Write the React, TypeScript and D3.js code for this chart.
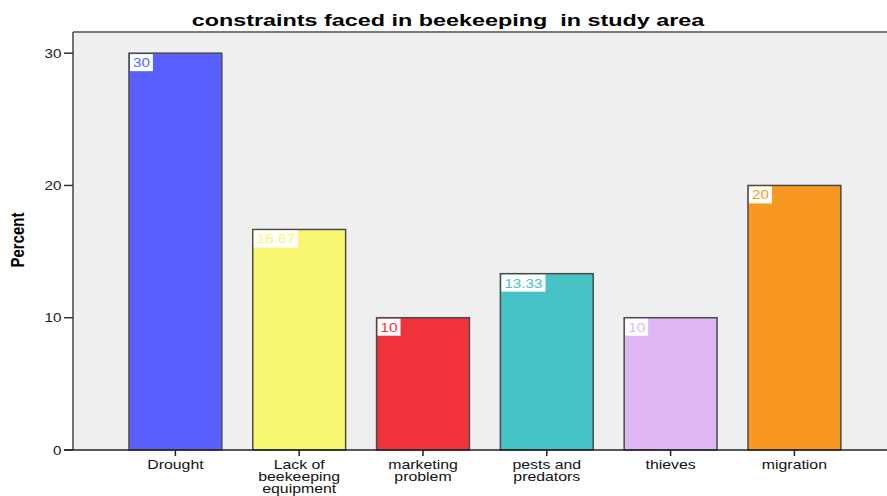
import React, { useEffect, useRef } from "react";
import * as d3 from "d3";

// Survey results: share of respondents naming each constraint
const categories = [
  "Drought",
  "Lack of beekeeping equipment",
  "marketing problem",
  "pests and predators",
  "thieves",
  "migration",
];
const tickLines = [
  ["Drought"],
  ["Lack of", "beekeeping", "equipment"],
  ["marketing", "problem"],
  ["pests and", "predators"],
  ["thieves"],
  ["migration"],
];
const percents = [30, 16.67, 10, 13.33, 10, 20];
const valueLabels = ["30", "16.67", "10", "13.33", "10", "20"];
const barColors = ["#5a5fff", "#f9f771", "#ef323c", "#47c2c5", "#dfb8f3", "#f89820"];
const yTicks = [0, 10, 20, 30];
const titleText = "constraints faced in beekeeping  in study area";
const yTitle = "Percent";

const W = 887;
const H = 496;
const FONT = "'Liberation Sans', Arial, sans-serif";
const SX = 1.27; // horizontal stretch of the sans text

export default function App() {
  const ref = useRef<SVGSVGElement | null>(null);

  useEffect(() => {
    const svg = d3.select(ref.current);
    svg.selectAll("*").remove();

    const plot = { left: 73, top: 32, right: 900, bottom: 450 };

    const x = d3
      .scaleBand<string>()
      .domain(categories)
      .range([113.5, 856.3])
      .paddingInner(0.25)
      .paddingOuter(0.125);
    const y = d3.scaleLinear().domain([0, 31.6]).range([plot.bottom, plot.top]);

    // plot background
    svg
      .append("rect")
      .attr("x", plot.left)
      .attr("y", plot.top)
      .attr("width", plot.right - plot.left)
      .attr("height", plot.bottom - plot.top)
      .attr("fill", "#efefef");
    svg
      .append("line")
      .attr("x1", plot.left)
      .attr("x2", plot.right)
      .attr("y1", plot.top)
      .attr("y2", plot.top)
      .attr("stroke", "#7a7a7a")
      .attr("stroke-width", 2);

    // bars
    const data = categories.map((c, i) => ({ c, v: percents[i], col: barColors[i], lab: valueLabels[i], lines: tickLines[i] }));
    svg
      .append("g")
      .selectAll("rect")
      .data(data)
      .join("rect")
      .attr("x", (d) => x(d.c)!)
      .attr("y", (d) => y(d.v))
      .attr("width", x.bandwidth())
      .attr("height", (d) => y(0) - y(d.v))
      .attr("fill", (d) => d.col)
      .attr("stroke", "#4a4a4a")
      .attr("stroke-width", 1.5);

    // value labels in white boxes at the top-left corner of each bar
    const lab = svg.append("g").selectAll("g").data(data).join("g");
    lab.each(function (d) {
      const g = d3.select(this);
      const bx = x(d.c)! + 1;
      const by = y(d.v) + 1;
      const rect = g.append("rect").attr("fill", "#ffffff");
      const t = g
        .append("text")
        .attr("transform", `translate(${bx + 3},${by + 13}) scale(${SX},1)`)
        .attr("font-family", FONT)
        .attr("font-size", 12)
        .attr("fill", d.col)
        .text(d.lab);
      const tw = (t.node() as SVGTextElement).getComputedTextLength() * SX;
      rect.attr("x", bx).attr("y", by).attr("width", tw + 6).attr("height", 17);
    });

    // y axis
    svg
      .append("line")
      .attr("x1", plot.left)
      .attr("x2", plot.left)
      .attr("y1", plot.top)
      .attr("y2", plot.bottom)
      .attr("stroke", "#444")
      .attr("stroke-width", 1.5);
    const yt = svg.append("g").selectAll("g").data(yTicks).join("g");
    yt.append("line")
      .attr("x1", 64)
      .attr("x2", plot.left)
      .attr("y1", (d) => y(d))
      .attr("y2", (d) => y(d))
      .attr("stroke", "#333")
      .attr("stroke-width", 1.5);
    yt.append("text")
      .attr("transform", (d) => `translate(61.5,${y(d) + 4.5}) scale(${SX},1)`)
      .attr("text-anchor", "end")
      .attr("font-family", FONT)
      .attr("font-size", 12)
      .attr("fill", "#222")
      .text((d) => String(d));

    // x axis
    svg
      .append("line")
      .attr("x1", 64)
      .attr("x2", W)
      .attr("y1", plot.bottom)
      .attr("y2", plot.bottom)
      .attr("stroke", "#222")
      .attr("stroke-width", 1.5);
    const xt = svg.append("g").selectAll("g").data(data).join("g");
    xt.append("line")
      .attr("x1", (d) => x(d.c)! + x.bandwidth() / 2)
      .attr("x2", (d) => x(d.c)! + x.bandwidth() / 2)
      .attr("y1", plot.bottom)
      .attr("y2", plot.bottom + 6)
      .attr("stroke", "#222")
      .attr("stroke-width", 1.5);
    xt.each(function (d) {
      const cx = x(d.c)! + x.bandwidth() / 2;
      d.lines.forEach((ln, k) => {
        d3.select(this)
          .append("text")
          .attr("transform", `translate(${cx},${468.5 + k * 12}) scale(${SX},1)`)
          .attr("text-anchor", "middle")
          .attr("font-family", FONT)
          .attr("font-size", 12.5)
          .attr("fill", "#111")
          .text(ln);
      });
    });

    // y axis title
    svg
      .append("text")
      .attr("transform", "translate(24,240) rotate(-90) scale(1,1.2)")
      .attr("text-anchor", "middle")
      .attr("font-family", FONT)
      .attr("font-weight", "bold")
      .attr("font-size", 15)
      .attr("fill", "#000")
      .text(yTitle);

    // chart title
    svg
      .append("text")
      .attr("transform", "translate(448,26) scale(1.46,1)")
      .attr("text-anchor", "middle")
      .attr("font-family", FONT)
      .attr("font-weight", "bold")
      .attr("font-size", 16)
      .attr("fill", "#000")
      .style("white-space", "pre")
      .text(titleText);
  }, []);

  return (
    <svg
      ref={ref}
      width={W}
      height={H}
      style={{ position: "absolute", left: 0, top: 0, background: "#fff", display: "block" }}
    />
  );
}
